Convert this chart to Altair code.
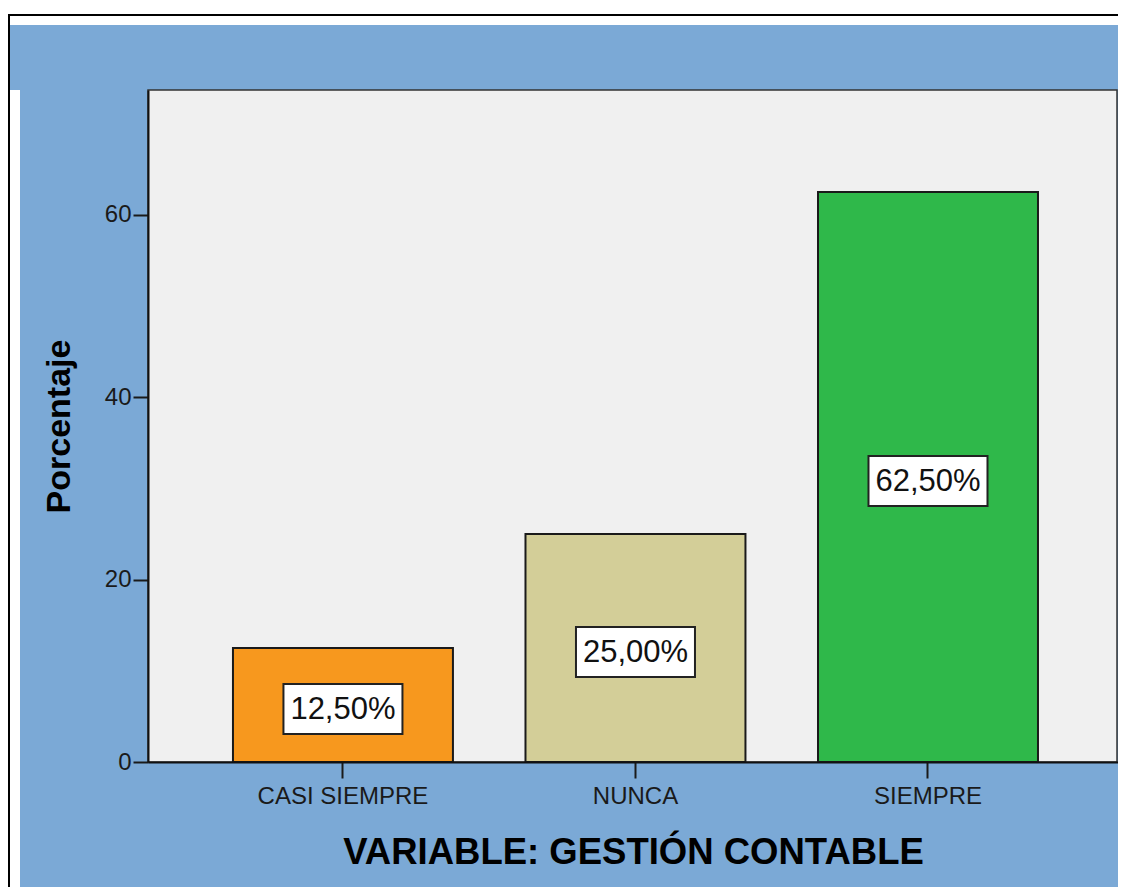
import altair as alt
import pandas as pd

categories = ["CASI SIEMPRE", "NUNCA", "SIEMPRE"]
percentages = [12.5, 25.0, 62.5]
bar_colors = ["#F7981E", "#D3CE98", "#2FB84A"]
y_ticks = [0, 20, 40, 60]

W, H = 970, 672

df = pd.DataFrame({"cat": categories, "pct": percentages})

x_enc = alt.X(
    "cat:N",
    sort=categories,
    scale=alt.Scale(paddingInner=0.248, paddingOuter=0.282, align=0.515),
    axis=alt.Axis(
        title="VARIABLE: GESTIÓN CONTABLE",
        labelAngle=0,
        labelFontSize=24,
        labelFont="Liberation Sans",
        labelColor="#1a1a1a",
        labelPadding=6,
        tickSize=16,
        tickWidth=2,
        tickColor="#1a1a1a",
        domainColor="#111111",
        domainWidth=2,
        titleFontSize=36.5,
        titleFont="Liberation Sans",
        titleFontWeight="bold",
        titleColor="#000000",
        titleY=101,
        titleBaseline="alphabetic",
        zindex=1,
    ),
)
y_scale = alt.Scale(domain=[0, 73.7], nice=False)
y_enc = alt.Y(
    "pct:Q",
    scale=y_scale,
    axis=alt.Axis(
        title="Porcentaje",
        values=y_ticks,
        grid=False,
        labelFontSize=24,
        labelFont="Liberation Sans",
        labelColor="#1a1a1a",
        labelPadding=2,
        tickSize=15,
        tickWidth=2,
        tickColor="#1a1a1a",
        domainColor="#111111",
        domainWidth=2,
        titleFontSize=34,
        titleFont="Liberation Sans",
        titleFontWeight="bold",
        titleColor="#000000",
        titleAngle=-90,
        titleX=-79,
        titleY=336,
        titleAlign="center",
        titleBaseline="alphabetic",
        zindex=1,
    ),
)

one = alt.Data(values=[{"a": 1}])

blue_main = alt.Chart(one).mark_rect(color="#7BA9D6").encode(
    x=alt.value(-128), x2=alt.value(W + 5), y=alt.value(-65), y2=alt.value(H + 130)
)
blue_top = alt.Chart(one).mark_rect(color="#7BA9D6").encode(
    x=alt.value(-138), x2=alt.value(-128), y=alt.value(-65), y2=alt.value(0)
)
frame_top = alt.Chart(one).mark_rule(color="#000000", strokeWidth=2).encode(
    x=alt.value(-140), x2=alt.value(W + 5), y=alt.value(-75)
)
frame_left = alt.Chart(one).mark_rule(color="#000000", strokeWidth=2).encode(
    x=alt.value(-139), y=alt.value(-75), y2=alt.value(H + 140)
)
plot_bg = alt.Chart(one).mark_rect(color="#F0F0F0", stroke="#333333", strokeWidth=1.5).encode(
    x=alt.value(0), x2=alt.value(W - 1), y=alt.value(0), y2=alt.value(H)
)

base = alt.Chart(df)

bars = base.mark_bar(stroke="#1a1a1a", strokeWidth=2).encode(
    x=x_enc,
    y=y_enc,
    color=alt.Color("cat:N", scale=alt.Scale(domain=categories, range=bar_colors), legend=None),
)

lab = base.transform_calculate(
    mid="datum.pct / 2",
    txt="replace(format(datum.pct, '.2f'), '.', ',') + '%'",
)

boxes = lab.mark_point(
    shape="M-2.38,-1L2.38,-1L2.38,1L-2.38,1Z",
    filled=True,
    fill="#FFFFFF",
    stroke="#222222",
    strokeWidth=2,
    opacity=1,
    size=2500,
).encode(
    x=alt.X("cat:N", sort=categories),
    y=alt.Y("mid:Q", scale=y_scale),
    yOffset=alt.value(4),
)

texts = lab.mark_text(
    font="Liberation Sans", fontSize=31, color="#111111", baseline="middle", dy=5
).encode(
    x=alt.X("cat:N", sort=categories),
    y=alt.Y("mid:Q", scale=y_scale),
    text="txt:N",
)

chart = alt.layer(
    blue_main, blue_top, frame_top, frame_left, plot_bg, bars, boxes, texts
).properties(
    width=W,
    height=H,
    padding={"left": 140, "top": 82, "right": 0, "bottom": 125},
    autosize="none",
    background="#FFFFFF",
).configure_view(stroke=None)

chart.save("out.html", embed_options={"renderer": "svg", "actions": False})
